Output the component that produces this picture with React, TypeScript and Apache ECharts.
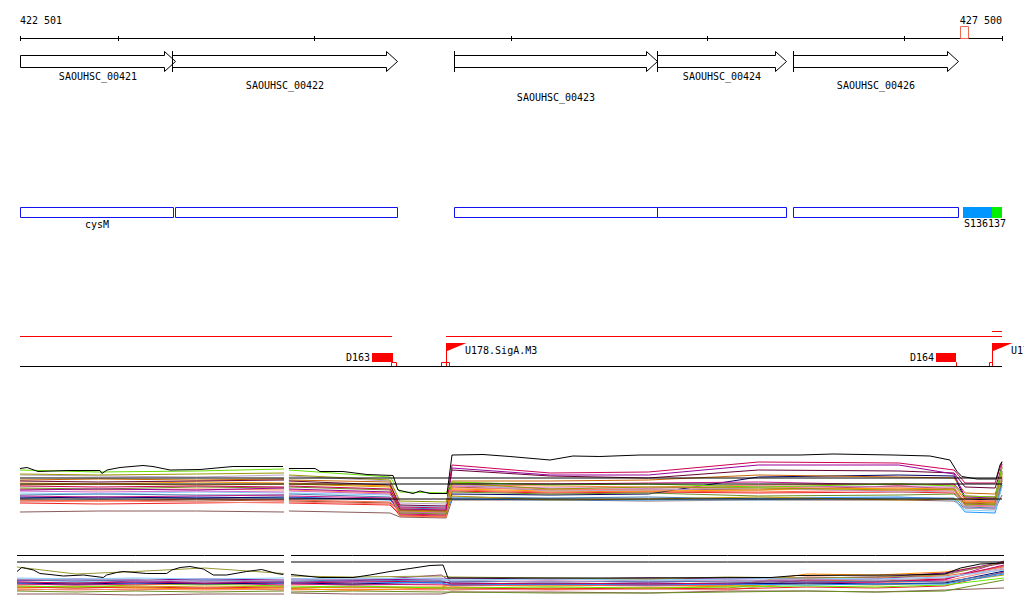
import React, { useEffect, useRef } from "react";
import * as echarts from "echarts";

// ---------- genome window ----------
const viewStart = 422501;
const viewEnd = 427500;
const rulerTicks = [422501, 423000, 424000, 425000, 426000, 427000, 427500];
const cursorRange = [427286, 427327];

// ---------- genes (arrows) ----------
const geneNames = ["SAOUHSC_00421", "SAOUHSC_00422", "SAOUHSC_00423", "SAOUHSC_00424", "SAOUHSC_00426"];
const geneStarts = [422450, 423275, 424710, 425744, 426436];
const geneEnds = [423290, 424420, 425744, 426400, 427276];
const geneLabelRows = [0, 1, 2, 0, 1];

// ---------- CDS track ----------
const cdsNames = ["cysM", "", "", "", ""];
const cdsStarts = [422450, 423290, 424710, 425744, 426436];
const cdsEnds = [423278, 424420, 425744, 426400, 427276];

// ---------- segment track ----------
const segmentLabel = "S136137";
const segmentStarts = [427301, 427449];
const segmentEnds = [427449, 427500];

// ---------- regulatory track ----------
const featureLineStarts = [422450, 424670];
const featureLineEnds = [424395, 427500];
const shortLineStarts = [427449];
const shortLineEnds = [427500];
const terminatorNames = ["D163", "D164"];
const terminatorStarts = [424293, 427164];
const terminatorEnds = [424400, 427266];
const terminatorSiteStarts = [424390, 427266];
const terminatorSiteEnds = [424415, 427266];
const promoterNames = ["U178.SigA.M3", "U179.SigA.M3"];
const promoterPositions = [424670, 427449];
const promoterSiteStarts = [424644, 427434];
const promoterSiteEnds = [424685, 427449];

// ---------- expression panel 1 ----------
const expr1Positions = [422501, 422900, 423400, 423845, 423870, 424385, 424435, 424670, 424700, 425200, 425700, 426260, 426975, 427256, 427312, 427465, 427500];
const expr1GapAfter = 3;
const expr1GapPos = 423857;
const expr1RefLevels = [9.4, 8.2, 5.2];
const e1BlackPositions = [422501, 422537, 422593, 422740, 422908, 422918, 422944, 423010, 423127, 423178, 423265, 423417, 423585, 423840, 423870, 424003, 424028, 424145, 424267, 424400, 424425, 424502, 424537, 424588, 424675, 424700, 424858, 424995, 425199, 425316, 425453, 425657, 426472, 426640, 426945, 427133, 427235, 427271, 427296, 427373, 427470, 427490, 427500];
const e1BlackGapAfter = 13;
const e1Black = [11.3, 11.5, 10.7, 10.9, 10.9, 10.3, 11.0, 11.5, 11.9, 11.7, 11.0, 11.1, 11.7, 11.7, 11.3, 11.3, 10.7, 10.7, 10.1, 9.9, 7.0, 6.3, 6.8, 6.3, 6.3, 14.0, 14.1, 13.7, 13.0, 13.8, 13.7, 14.0, 14.0, 14.2, 14.0, 13.8, 13.0, 10.7, 9.7, 9.2, 9.2, 12.0, 12.7];
const e1Lime = [11.0, 10.6, 10.8, 11.2, 11.0, 9.6, 6.6, 6.4, 8.6, 8.0, 8.2, 7.6, 8.2, 7.8, 5.8, 5.6, 11.8];
const e1Olive = [10.2, 10.0, 10.2, 10.4, 10.0, 9.0, 4.8, 4.6, 8.4, 7.2, 7.6, 7.4, 7.0, 7.2, 4.0, 4.2, 11.4];
const e1Lavender = [10.0, 9.8, 9.6, 10.0, 9.8, 8.8, 4.4, 4.2, 8.2, 6.8, 7.0, 7.4, 6.6, 6.8, 3.4, 3.2, 10.8];
const e1Crimson = [7.8, 7.6, 7.8, 7.6, 7.8, 7.2, 3.6, 3.4, 12.0, 10.4, 10.6, 12.6, 12.4, 11.0, 8.4, 8.4, 12.6];
const e1Purple = [7.0, 7.2, 7.0, 7.4, 7.2, 6.6, 3.2, 3.0, 11.4, 10.0, 10.0, 12.0, 12.0, 10.2, 5.6, 5.4, 12.2];
const e1Maroon = [8.8, 8.6, 8.8, 9.0, 8.8, 8.0, 4.0, 3.8, 11.0, 9.8, 9.4, 11.0, 10.8, 10.4, 7.6, 7.4, 11.6];
const e1Chocolate = [9.0, 9.2, 9.0, 9.2, 9.0, 8.6, 3.0, 2.8, 8.8, 8.8, 9.0, 10.0, 9.6, 9.4, 6.4, 6.2, 10.2];
const e1Tomato = [5.0, 4.8, 5.2, 5.0, 5.0, 4.6, 2.6, 2.4, 7.0, 6.6, 6.8, 6.6, 7.0, 6.8, 4.8, 4.6, 9.6];
const e1Salmon = [4.6, 4.8, 4.6, 4.4, 4.6, 4.2, 2.2, 2.0, 7.4, 7.2, 7.0, 7.6, 7.2, 7.4, 3.8, 3.6, 9.2];
const e1Red = [4.4, 4.2, 4.4, 4.6, 4.4, 4.0, 2.0, 1.8, 6.8, 6.4, 6.6, 6.4, 6.6, 6.4, 4.4, 4.6, 8.8];
const e1Steel = [6.0, 6.2, 6.0, 6.0, 6.2, 5.6, 3.4, 3.2, 5.6, 5.4, 5.6, 5.2, 5.4, 5.4, 3.6, 3.4, 8.4];
const e1Sky = [6.4, 6.2, 6.6, 6.4, 6.4, 6.0, 3.8, 3.6, 5.4, 5.2, 5.0, 5.0, 5.2, 5.0, 3.0, 2.8, 7.6];
const e1Navy = [5.4, 5.6, 5.4, 5.6, 5.4, 5.2, 3.0, 2.8, 6.2, 6.0, 6.2, 9.6, 10.0, 9.8, 5.2, 5.0, 10.4];
const e1Drab = [7.4, 7.2, 7.6, 7.4, 7.6, 7.0, 2.4, 2.2, 6.6, 6.2, 6.4, 5.8, 6.0, 6.2, 4.2, 4.0, 9.0];
const e1Gold = [8.0, 8.2, 8.0, 8.2, 8.2, 7.6, 2.8, 2.6, 5.8, 5.0, 5.2, 5.6, 5.0, 5.2, 4.6, 4.4, 10.0];
const e1Coral = [7.2, 7.0, 7.2, 7.0, 7.0, 6.4, 1.8, 1.6, 8.0, 7.8, 7.6, 8.0, 8.2, 8.0, 5.0, 4.8, 9.8];
const e1Orchid = [6.8, 6.6, 6.8, 6.6, 6.8, 6.2, 2.6, 2.4, 7.8, 7.4, 7.4, 7.8, 7.6, 7.6, 4.0, 3.8, 9.4];
const e1Orange = [8.4, 8.2, 8.6, 8.4, 8.4, 7.8, 3.2, 3.0, 7.2, 6.8, 6.8, 7.0, 7.4, 7.0, 5.4, 5.2, 10.6];
const e1Violet = [5.8, 5.6, 5.8, 6.0, 5.8, 5.4, 2.2, 2.0, 8.4, 8.2, 8.4, 8.6, 8.0, 8.2, 5.8, 5.6, 10.8];
const e1Brown = [2.6, 2.8, 2.8, 2.6, 2.8, 2.4, 1.6, 1.4, 5.0, 5.0, 4.8, 5.0, 5.0, 4.8, 3.4, 3.2, 6.0];
const e1Dodger = [5.6, 5.4, 5.6, 5.4, 5.6, 5.0, 2.8, 2.6, 5.2, 5.0, 5.0, 5.4, 5.6, 5.2, 2.6, 2.4, 8.0];
const e1Sienna = [4.8, 5.0, 4.8, 5.0, 4.8, 4.4, 1.8, 1.6, 7.6, 7.0, 7.2, 7.0, 7.8, 7.2, 4.4, 4.2, 9.2];

// ---------- expression panel 2 ----------
const expr2Positions = [422501, 422800, 423100, 423450, 423853, 423889, 424200, 424650, 424700, 425200, 425700, 426100, 426500, 426850, 427200, 427500];
const expr2GapAfter = 4;
const expr2GapPos = 423870;
const expr2RefLevels = [9.9, 8.6];
const e2BlackPositions = [422501, 422525, 422550, 422584, 422617, 422668, 422736, 422837, 422938, 422955, 423006, 423039, 423158, 423259, 423285, 423327, 423377, 423445, 423495, 423563, 423664, 423740, 423816, 423850, 423889, 424036, 424203, 424289, 424390, 424492, 424593, 424659, 424684, 425500, 426320, 426450, 427000, 427200, 427280, 427380, 427500];
const e2BlackGapAfter = 23;
const e2Black = [6.7, 7.5, 7.3, 7.0, 6.3, 6.1, 5.8, 6.0, 5.5, 6.0, 6.5, 6.7, 6.3, 6.3, 7.0, 7.5, 7.7, 7.2, 6.0, 6.0, 6.7, 7.1, 6.3, 6.1, 6.1, 5.5, 5.5, 6.0, 6.7, 7.3, 7.9, 8.0, 5.4, 5.4, 5.5, 5.9, 6.0, 6.2, 7.4, 8.2, 8.4];
const e2Olive = [7.6, 6.2, 6.7, 7.4, 6.3, 5.8, 5.6, 5.8, 5.6, 5.4, 5.2, 5.6, 5.4, 5.6, 6.0, 8.6];
const e2Sky = [5.4, 5.2, 5.4, 5.2, 5.4, 5.2, 5.4, 5.2, 5.0, 5.2, 5.0, 5.2, 5.4, 5.2, 5.6, 7.0];
const e2Tomato = [4.0, 4.2, 4.0, 4.4, 4.2, 4.0, 4.2, 4.0, 3.8, 4.0, 3.8, 4.0, 5.6, 5.4, 5.8, 7.6];
const e2Crimson = [4.6, 4.4, 4.6, 4.4, 4.6, 4.4, 4.6, 4.8, 4.2, 4.4, 4.2, 4.4, 4.8, 4.6, 5.2, 8.0];
const e2Purple = [4.8, 5.0, 4.6, 4.8, 4.6, 4.6, 4.8, 6.0, 4.6, 4.8, 4.6, 4.8, 5.0, 5.2, 6.2, 8.4];
const e2Lime = [3.8, 3.6, 4.0, 4.2, 3.8, 3.6, 3.8, 3.4, 3.4, 3.6, 3.4, 3.6, 3.8, 3.6, 4.0, 5.4];
const e2Orange = [3.4, 3.6, 3.4, 3.2, 3.4, 3.2, 3.0, 3.4, 3.6, 3.2, 3.4, 3.8, 6.2, 6.0, 6.6, 8.4];
const e2Chocolate = [3.0, 3.2, 3.0, 3.4, 3.0, 3.2, 3.0, 3.2, 3.0, 3.4, 3.2, 3.4, 5.0, 4.8, 5.2, 7.8];
const e2Navy = [4.4, 4.2, 4.4, 4.2, 4.4, 4.4, 4.2, 4.6, 4.4, 4.2, 4.4, 4.2, 4.4, 4.2, 4.4, 6.8];
const e2Steel = [5.0, 4.8, 5.0, 5.0, 4.8, 4.8, 5.0, 4.8, 4.8, 4.6, 4.8, 4.6, 4.6, 4.8, 4.6, 6.4];
const e2Gold = [3.6, 3.8, 3.6, 3.8, 3.6, 3.4, 3.6, 3.6, 4.0, 3.8, 4.0, 3.8, 4.2, 4.0, 4.4, 6.0];
const e2Salmon = [3.2, 3.0, 3.2, 3.0, 3.2, 3.0, 3.2, 3.0, 3.2, 3.0, 3.2, 3.0, 4.6, 4.4, 4.8, 7.2];
const e2Drab = [2.8, 2.6, 2.8, 2.6, 2.8, 2.6, 2.8, 2.6, 2.6, 2.4, 2.4, 2.6, 2.8, 2.6, 2.8, 5.0];
const e2Lavender = [5.2, 5.0, 5.2, 4.6, 5.0, 5.0, 5.2, 5.4, 5.0, 4.6, 5.0, 4.8, 5.2, 5.0, 5.4, 7.4];
const e2Brown = [2.2, 2.2, 2.0, 2.2, 2.2, 2.4, 2.2, 2.2, 2.6, 2.6, 2.4, 2.8, 2.8, 2.6, 3.0, 3.4];
const e2Violet = [4.2, 4.0, 4.2, 4.4, 4.0, 4.2, 4.0, 4.2, 4.0, 4.2, 4.0, 4.2, 4.4, 4.6, 5.0, 8.8];
const e2Red = [3.6, 3.4, 3.6, 3.4, 3.6, 3.4, 3.6, 3.4, 3.4, 3.2, 3.4, 3.2, 3.6, 3.4, 3.8, 6.6];
const e2Magenta = [5.0, 5.2, 5.0, 5.2, 5.0, 5.2, 5.0, 5.2, 5.4, 5.2, 5.4, 5.2, 5.4, 5.6, 6.4, 8.6];
const e2Dodger = [4.4, 4.6, 4.4, 4.6, 4.4, 4.4, 4.6, 4.4, 4.0, 4.2, 4.0, 4.2, 4.0, 4.2, 4.2, 6.2];

const FONT = '10px "DejaVu Sans Mono", monospace';

function clampPos(v: number) {
  return Math.min(Math.max(v, viewStart), viewEnd);
}

function withGap(xs: number[], vals: number[], gapAfter: number, gapPos: number) {
  const out: any[] = [];
  xs.forEach((x, i) => {
    out.push([x, vals[i]]);
    if (i === gapAfter) out.push([gapPos, null]);
  });
  return out;
}

function fmtPos(v: number) {
  const s = String(v);
  return s.slice(0, s.length - 3) + " " + s.slice(s.length - 3);
}

function txt(text: string, x: number, y: number, align = "left") {
  return {
    type: "text",
    silent: true,
    style: { text, x, y, align, verticalAlign: "middle", font: FONT, fill: "#000" },
  };
}

export default function App() {
  const ref = useRef<HTMLDivElement>(null);

  useEffect(() => {
    if (!ref.current) return;
    const chart = echarts.init(ref.current, undefined, { renderer: "svg" });
    const X = (api: any, v: number) => api.coord([clampPos(v), 0])[0];

    const customBase = { type: "custom", xAxisIndex: 0, yAxisIndex: 0, silent: true, clip: false, animation: false };

    const rulerSeries = {
      ...customBase,
      data: [[viewStart, viewEnd]],
      renderItem: (params: any, api: any) => {
        const x0 = X(api, api.value(0));
        const x1 = X(api, api.value(1));
        const children: any[] = [
          { type: "line", shape: { x1: x0, y1: 38.5, x2: x1, y2: 38.5 }, style: { stroke: "#000", lineWidth: 1 } },
        ];
        rulerTicks.forEach((t) => {
          const tx = Math.round(X(api, t)) + 0.5;
          children.push({ type: "line", shape: { x1: tx, y1: 36, x2: tx, y2: 41 }, style: { stroke: "#000", lineWidth: 1 } });
        });
        children.push(txt(fmtPos(viewStart), x0, 20.5, "left"));
        children.push(txt(fmtPos(viewEnd), x1, 20.5, "right"));
        return { type: "group", children };
      },
    };

    const cursorSeries = {
      ...customBase,
      data: [cursorRange],
      renderItem: (params: any, api: any) => {
        const x0 = Math.round(X(api, api.value(0))) + 0.5;
        const x1 = Math.round(X(api, api.value(1))) + 0.5;
        return { type: "rect", shape: { x: x0, y: 26.5, width: x1 - x0, height: 12 }, style: { fill: "none", stroke: "#f06a50", lineWidth: 1 } };
      },
    };

    const labelRowY = [76.5, 85, 97.5];
    const geneSeries = {
      ...customBase,
      data: geneStarts.map((s, i) => [s, geneEnds[i], i]),
      renderItem: (params: any, api: any) => {
        const i = params.dataIndex;
        const clipped = api.value(0) < viewStart;
        const x0 = Math.round(X(api, api.value(0))) + 0.5;
        const x1 = Math.round(X(api, api.value(1))) + 0.5;
        const hx = x1 - 11;
        const children: any[] = [
          {
            type: "polygon",
            shape: { points: [[x0, 55.5], [hx, 55.5], [hx, 51.5], [x1, 61.5], [hx, 71.5], [hx, 67.5], [x0, 67.5]] },
            style: { fill: "none", stroke: "#000", lineWidth: 1 },
          },
        ];
        if (!clipped) {
          children.push({ type: "line", shape: { x1: x0, y1: 51, x2: x0, y2: 72 }, style: { stroke: "#000", lineWidth: 1 } });
        }
        children.push(txt(geneNames[i], (x0 + x1) / 2, labelRowY[geneLabelRows[i]], "center"));
        return { type: "group", children };
      },
    };

    const cdsSeries = {
      ...customBase,
      data: cdsStarts.map((s, i) => [s, cdsEnds[i], i]),
      renderItem: (params: any, api: any) => {
        const i = params.dataIndex;
        const x0 = Math.round(X(api, api.value(0))) + 0.5;
        const x1 = Math.round(X(api, api.value(1))) + 0.5;
        const children: any[] = [
          { type: "rect", shape: { x: x0, y: 207.5, width: x1 - x0, height: 10 }, style: { fill: "none", stroke: "#1414f0", lineWidth: 1 } },
        ];
        if (cdsNames[i]) children.push(txt(cdsNames[i], (x0 + x1) / 2, 224.5, "center"));
        return { type: "group", children };
      },
    };

    const segColors = ["#0096ff", "#00f000"];
    const segmentSeries = {
      ...customBase,
      data: segmentStarts.map((s, i) => [s, segmentEnds[i], i]),
      renderItem: (params: any, api: any) => {
        const i = params.dataIndex;
        const x0 = Math.round(X(api, api.value(0)));
        const x1 = Math.round(X(api, api.value(1)));
        const children: any[] = [
          { type: "rect", shape: { x: x0, y: 207, width: x1 - x0, height: 11 }, style: { fill: segColors[i] } },
        ];
        if (i === 0) children.push(txt(segmentLabel, x0 + 1, 223, "left"));
        return { type: "group", children };
      },
    };

    const redLineSeries = {
      ...customBase,
      data: featureLineStarts.map((s, i) => [s, featureLineEnds[i]]),
      renderItem: (params: any, api: any) => {
        const x0 = X(api, api.value(0));
        const x1 = X(api, api.value(1));
        return { type: "line", shape: { x1: x0, y1: 336.5, x2: x1, y2: 336.5 }, style: { stroke: "#ff0000", lineWidth: 1 } };
      },
    };

    const shortLineSeries = {
      ...customBase,
      data: shortLineStarts.map((s, i) => [s, shortLineEnds[i]]),
      renderItem: (params: any, api: any) => {
        const x0 = X(api, api.value(0));
        const x1 = X(api, api.value(1));
        return { type: "line", shape: { x1: x0, y1: 331.5, x2: x1, y2: 331.5 }, style: { stroke: "#ff0000", lineWidth: 1 } };
      },
    };

    const baselineSeries = {
      ...customBase,
      data: [[viewStart, viewEnd]],
      renderItem: (params: any, api: any) => {
        const x0 = X(api, api.value(0));
        const x1 = X(api, api.value(1));
        return { type: "line", shape: { x1: x0, y1: 366.5, x2: x1, y2: 366.5 }, style: { stroke: "#000", lineWidth: 1 } };
      },
    };

    const terminatorSeries = {
      ...customBase,
      data: terminatorStarts.map((s, i) => [s, terminatorEnds[i], terminatorSiteStarts[i], terminatorSiteEnds[i]]),
      renderItem: (params: any, api: any) => {
        const i = params.dataIndex;
        const x0 = Math.round(X(api, api.value(0)));
        const x1 = Math.round(X(api, api.value(1)));
        const s0 = Math.round(X(api, api.value(2))) + 0.5;
        const s1 = Math.round(X(api, api.value(3))) + 0.5;
        return {
          type: "group",
          children: [
            { type: "rect", shape: { x: x0, y: 353, width: x1 - x0, height: 9 }, style: { fill: "#ff0000" } },
            { type: "polyline", shape: { points: [[s0, 366], [s0, 362.5], [s1, 362.5], [s1, 366]] }, style: { fill: "none", stroke: "#ff0000", lineWidth: 1 } },
            txt(terminatorNames[i], x0 - 2, 357.5, "right"),
          ],
        };
      },
    };

    const promoterSeries = {
      ...customBase,
      data: promoterPositions.map((p, i) => [p, promoterSiteStarts[i], promoterSiteEnds[i]]),
      renderItem: (params: any, api: any) => {
        const i = params.dataIndex;
        const x = Math.round(X(api, api.value(0))) + 0.5;
        const s0 = Math.round(X(api, api.value(1))) + 0.5;
        const s1 = Math.round(X(api, api.value(2))) + 0.5;
        return {
          type: "group",
          children: [
            { type: "line", shape: { x1: x, y1: 343, x2: x, y2: 366 }, style: { stroke: "#ff0000", lineWidth: 1 } },
            { type: "polygon", shape: { points: [[x - 0.5, 343], [x + 20, 343], [x - 0.5, 351.5]] }, style: { fill: "#ff0000" } },
            { type: "polyline", shape: { points: [[s0, 366], [s0, 362.5], [s1, 362.5], [s1, 366]] }, style: { fill: "none", stroke: "#ff0000", lineWidth: 1 } },
            txt(promoterNames[i], x + 18.5, 350.5, "left"),
          ],
        };
      },
    };

    const mkLine = (axis: number, data: any[], color: string, z = 2) => ({
      type: "line",
      xAxisIndex: axis,
      yAxisIndex: axis,
      data,
      symbol: "none",
      showSymbol: false,
      silent: true,
      connectNulls: false,
      z,
      lineStyle: { width: 1, color },
      itemStyle: { color },
    });

    const panel1: [number[], string][] = [
      [e1Brown, "#8b5a5a"],
      [e1Sienna, "#a0522d"],
      [e1Red, "#ee2222"],
      [e1Salmon, "#fa8072"],
      [e1Tomato, "#ff6347"],
      [e1Dodger, "#1e90ff"],
      [e1Navy, "#000066"],
      [e1Sky, "#87cefa"],
      [e1Steel, "#4682b4"],
      [e1Violet, "#c71585"],
      [e1Orchid, "#cc66cc"],
      [e1Coral, "#ff7f50"],
      [e1Drab, "#6b8e23"],
      [e1Gold, "#cc9900"],
      [e1Orange, "#ff9900"],
      [e1Chocolate, "#cc6600"],
      [e1Maroon, "#660033"],
      [e1Purple, "#990099"],
      [e1Crimson, "#cc0055"],
      [e1Lavender, "#b8a0c8"],
      [e1Olive, "#999900"],
      [e1Lime, "#66dd00"],
    ];
    const panel2: [number[], string][] = [
      [e2Brown, "#8b5a5a"],
      [e2Drab, "#6b8e23"],
      [e2Chocolate, "#cc6633"],
      [e2Salmon, "#fa8072"],
      [e2Orange, "#ff8c00"],
      [e2Red, "#ee2222"],
      [e2Gold, "#cc9900"],
      [e2Lime, "#66ee00"],
      [e2Tomato, "#ff6347"],
      [e2Violet, "#c71585"],
      [e2Navy, "#000080"],
      [e2Dodger, "#1e90ff"],
      [e2Crimson, "#cc0055"],
      [e2Purple, "#993399"],
      [e2Steel, "#4682b4"],
      [e2Magenta, "#8b008b"],
      [e2Lavender, "#b8a0c8"],
      [e2Sky, "#87cefa"],
      [e2Olive, "#999933"],
    ];

    const lineSeries: any[] = [];
    panel1.forEach(([vals, color]) => lineSeries.push(mkLine(1, withGap(expr1Positions, vals, expr1GapAfter, expr1GapPos), color)));
    expr1RefLevels.forEach((lv) =>
      lineSeries.push(mkLine(1, withGap(expr1Positions, expr1Positions.map(() => lv), expr1GapAfter, expr1GapPos), "#000", 3))
    );
    lineSeries.push(mkLine(1, withGap(e1BlackPositions, e1Black, e1BlackGapAfter, expr1GapPos), "#000", 4));

    panel2.forEach(([vals, color]) => lineSeries.push(mkLine(2, withGap(expr2Positions, vals, expr2GapAfter, expr2GapPos), color)));
    expr2RefLevels.forEach((lv) =>
      lineSeries.push(mkLine(2, withGap(expr2Positions, expr2Positions.map(() => lv), expr2GapAfter, expr2GapPos), "#000", 3))
    );
    lineSeries.push(mkLine(2, withGap(e2BlackPositions, e2Black, e2BlackGapAfter, expr2GapPos), "#000", 4));

    const hiddenX = (i: number) => ({ type: "value", gridIndex: i, min: viewStart, max: viewEnd, show: false });

    chart.setOption({
      animation: false,
      backgroundColor: "#ffffff",
      grid: [
        { left: 20, right: 22, top: 0, height: 400 },
        { left: 20, right: 22, top: 440, height: 85 },
        { left: 17, right: 20, top: 545, height: 60 },
      ],
      xAxis: [hiddenX(0), hiddenX(1), hiddenX(2)],
      yAxis: [
        { type: "value", gridIndex: 0, min: 0, max: 1, show: false },
        { type: "value", gridIndex: 1, min: 0, max: 17, show: false },
        { type: "value", gridIndex: 2, min: 0, max: 12, show: false },
      ],
      series: [
        rulerSeries,
        cursorSeries,
        geneSeries,
        cdsSeries,
        segmentSeries,
        redLineSeries,
        shortLineSeries,
        baselineSeries,
        terminatorSeries,
        promoterSeries,
        ...lineSeries,
      ],
    });

    return () => chart.dispose();
  }, []);

  return (
    <div
      ref={ref}
      style={{ position: "absolute", left: 0, top: 0, width: 1024, height: 611, background: "#fff" }}
    />
  );
}
